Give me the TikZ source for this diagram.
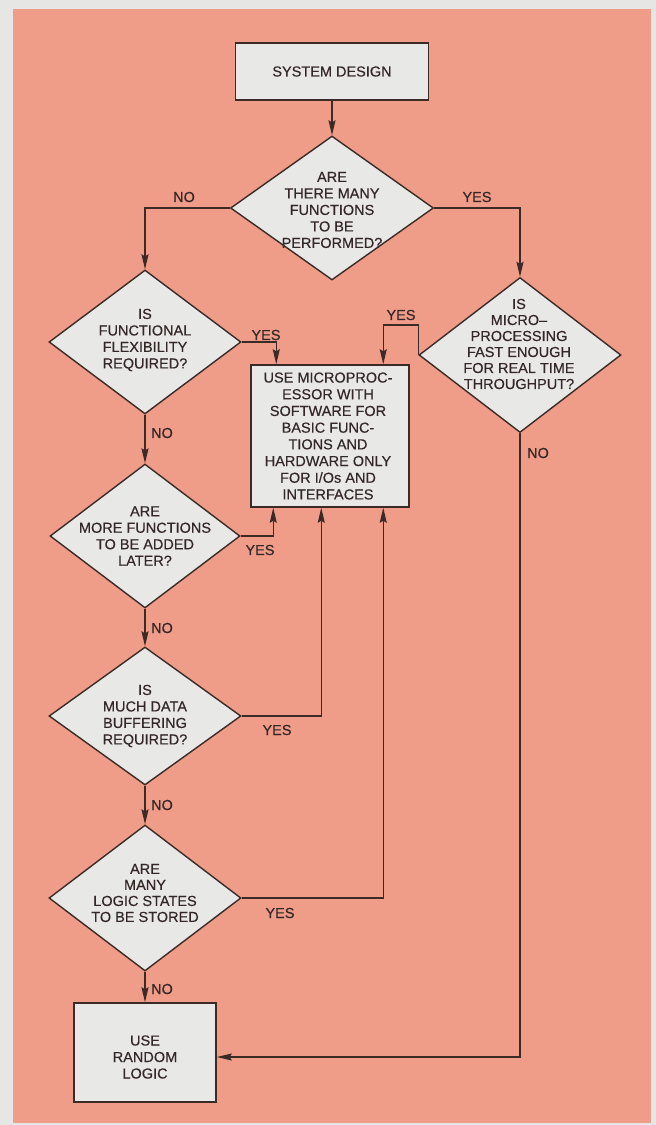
\documentclass[tikz,border=0pt]{standalone}
\usepackage{fontspec}
\setmainfont{Liberation Sans}[FakeBold=0.4]
\usetikzlibrary{shapes.geometric,arrows.meta,calc}
\definecolor{bggrey}{HTML}{E6E6E4}
\definecolor{salmon}{HTML}{EF9C89}
\definecolor{nodefill}{HTML}{E8E8E6}
\definecolor{linec}{HTML}{3B2B27}
\definecolor{textc}{HTML}{332827}
\begin{document}
\begin{tikzpicture}[x=1pt,y=-1pt,
  every node/.style={font=\fontsize{14.5}{16.5}\selectfont, text=textc},
  boxnode/.style={draw=linec, fill=nodefill, line width=1.5pt, rectangle, inner sep=0pt},
  dianode/.style={draw=linec, fill=nodefill, line width=1.4pt, shape=diamond, inner sep=0pt},
  txt/.style={align=center, inner sep=0pt},
  lbl/.style={inner sep=0pt},
  arr/.style={draw=linec, line width=1.3pt, -{Stealth[length=15pt,width=7pt,inset=2pt]}}
]
\useasboundingbox (0,0) rectangle (656,1125);
\fill[bggrey] (0,0) rectangle (656,1125);
\fill[salmon] (13,9) rectangle (651,1123);

% shapes
\node[boxnode, minimum width=193pt, minimum height=57pt] (sys) at (332,71.5) {};
\node[txt] (syst) at (sys) {SYSTEM DESIGN};

\node[dianode, minimum width=203pt, minimum height=144pt] (d1) at (332,208) {};
\node[txt] (d1t) at (332,210) {ARE\\THERE MANY\\FUNCTIONS\\TO BE\\PERFORMED?};

\node[dianode, minimum width=192pt, minimum height=144pt] (d2) at (145,342) {};
\node[txt] (d2t) at (145,340) {IS\\FUNCTIONAL\\FLEXIBILITY\\REQUIRED?};

\node[dianode, minimum width=202pt, minimum height=155pt] (d3) at (520,355) {};
\node[txt, font=\fontsize{14.5}{16}\selectfont] (d3t) at (519,344) {IS\\MICRO–\\PROCESSING\\FAST ENOUGH\\FOR REAL TIME\\THROUGHPUT?};

\node[boxnode, minimum width=158pt, minimum height=142pt] (box) at (330,436) {};
\node[txt, font=\fontsize{14.5}{16.7}\selectfont] (boxt) at (328,436) {USE MICROPROC-\\ESSOR WITH\\SOFTWARE FOR\\BASIC FUNC-\\TIONS AND\\HARDWARE ONLY\\FOR I/Os AND\\INTERFACES};

\node[dianode, minimum width=190pt, minimum height=144pt] (d4) at (145,536) {};
\node[txt] (d4t) at (145,536) {ARE\\MORE FUNCTIONS\\TO BE ADDED\\LATER?};

\node[dianode, minimum width=192pt, minimum height=138pt] (d5) at (145,716) {};
\node[txt] (d5t) at (145,716) {IS\\MUCH DATA\\BUFFERING\\REQUIRED?};

\node[dianode, minimum width=192pt, minimum height=146pt] (d6) at (145,898) {};
\node[txt, font=\fontsize{14.5}{16}\selectfont] (d6t) at (145,893) {ARE\\MANY\\LOGIC STATES\\TO BE STORED};

\node[boxnode, minimum width=142pt, minimum height=99pt] (rl) at (145,1052.5) {};
\node[txt] (rlt) at (145,1057) {USE\\RANDOM\\LOGIC};

% connectors
\draw[arr] (sys.south) -- (d1.north);
\draw[arr] (d1.west) -| (d2.north);
\draw[arr] (d1.east) -| (d3.north);
\draw[arr] (d2.east) -| ([xshift=26pt]box.north west);
\draw[arr] (d3.west) -- ++(0,-30) -| ([xshift=133pt]box.north west);
\draw[arr] (d2.south) -- (d4.north);
\draw[arr] (d4.east) -| ([xshift=23pt]box.south west);
\draw[arr] (d4.south) -- (d5.north);
\draw[arr] (d5.east) -| ([xshift=71pt]box.south west);
\draw[arr] (d5.south) -- (d6.north);
\draw[arr] (d6.east) -| ([xshift=133pt]box.south west);
\draw[arr] (d6.south) -- (rl.north);
\draw[arr] (d3.south) |- ([yshift=-4.5pt]rl.east);

% labels
\node[lbl] (l1) at (184,197) {NO};
\node[lbl] (l2) at (477,197) {YES};
\node[lbl] (l3) at (266,335) {YES};
\node[lbl] (l4) at (401,315) {YES};
\node[lbl] (l5) at (162,433) {NO};
\node[lbl] (l6) at (538,453) {NO};
\node[lbl] (l7) at (260,550) {YES};
\node[lbl] (l8) at (162,628) {NO};
\node[lbl] (l9) at (277,730) {YES};
\node[lbl] (l10) at (162,805) {NO};
\node[lbl] (l11) at (280,913) {YES};
\node[lbl] (l12) at (162,989) {NO};
\end{tikzpicture}
\end{document}
